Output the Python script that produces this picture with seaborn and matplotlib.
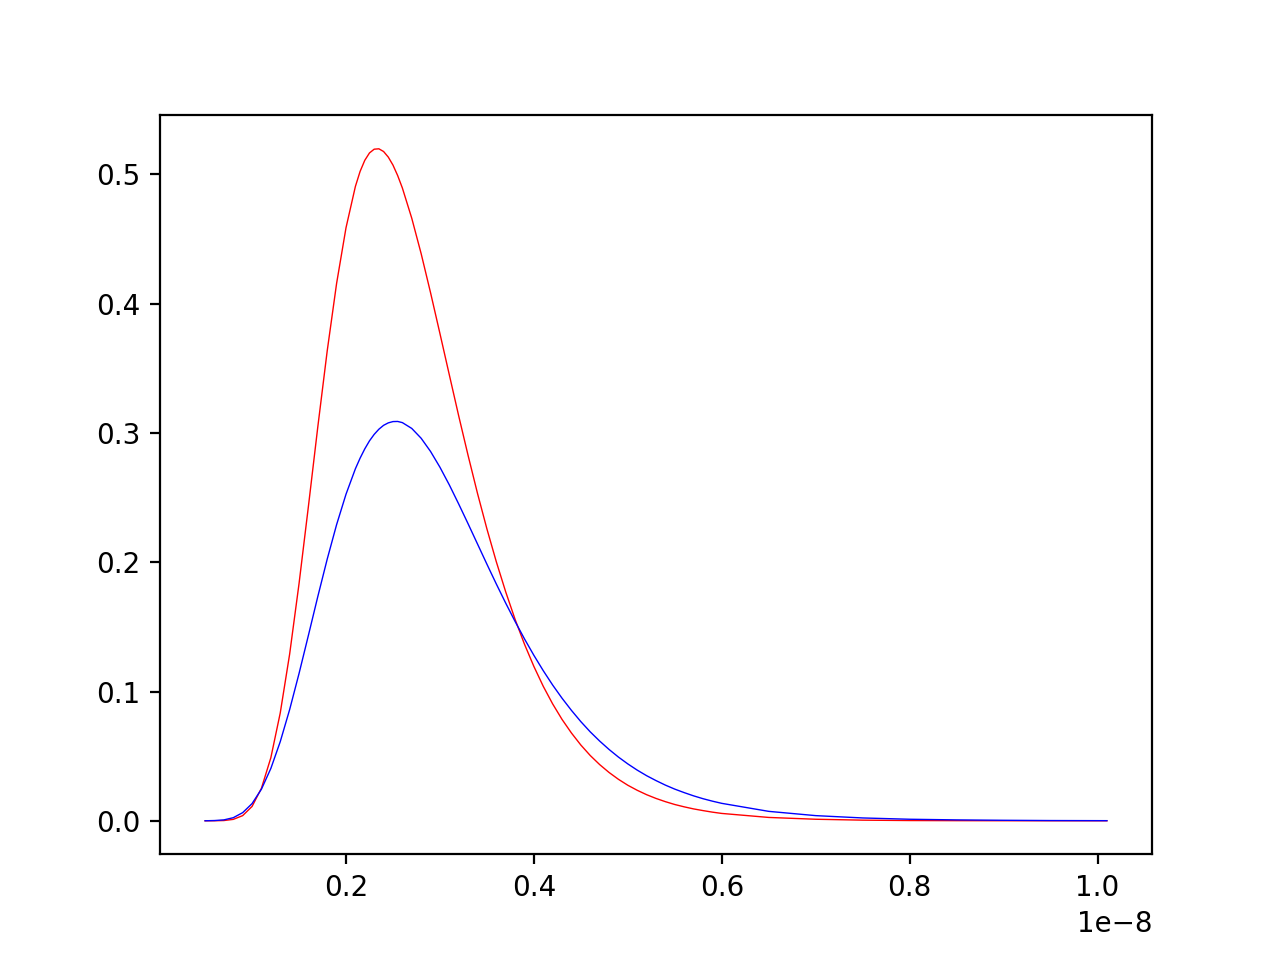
import numpy as np
import matplotlib
matplotlib.use("Agg")
import matplotlib.pyplot as plt
import seaborn as sns

# x positions (in units of 1e-8)
x_vals = [0.05, 0.06, 0.07, 0.08, 0.09, 0.10, 0.11, 0.12, 0.13, 0.14,
          0.15, 0.16, 0.17, 0.18, 0.19, 0.20, 0.21, 0.215, 0.22, 0.225,
          0.23, 0.235, 0.24, 0.245, 0.25, 0.255, 0.26, 0.27, 0.28, 0.29,
          0.30, 0.31, 0.32, 0.33, 0.34, 0.35, 0.36, 0.37, 0.38, 0.39,
          0.40, 0.41, 0.42, 0.43, 0.44, 0.45, 0.46, 0.47, 0.48, 0.49,
          0.50, 0.51, 0.52, 0.53, 0.54, 0.55, 0.56, 0.57, 0.58, 0.59,
          0.60, 0.65, 0.70, 0.75, 0.80, 0.85, 0.90, 0.95, 1.01]
x_scale = 1e-8

red_vals = [0.0000, 0.00003, 0.0002, 0.0011, 0.0040, 0.0111, 0.0252, 0.0488, 0.0834, 0.1289,
            0.1834, 0.2433, 0.3048, 0.3635, 0.4157, 0.4587, 0.4907, 0.5023, 0.5109, 0.5166,
            0.5195, 0.5198, 0.5177, 0.5134, 0.5072, 0.4991, 0.4895, 0.4661, 0.4387, 0.4085,
            0.3769, 0.3449, 0.3131, 0.2825, 0.2532, 0.2258, 0.2004, 0.1771, 0.1558, 0.1366,
            0.1194, 0.1040, 0.0904, 0.0784, 0.0679, 0.0586, 0.0505, 0.0435, 0.0374, 0.0321,
            0.0275, 0.0236, 0.0202, 0.0173, 0.0148, 0.0126, 0.0108, 0.0092, 0.0079, 0.0067,
            0.0057, 0.0026, 0.0012, 0.0005, 0.0002, 0.0001, 0.00005, 0.00002, 0.00001]

blue_vals = [0.00002, 0.0002, 0.0007, 0.0024, 0.0063, 0.0133, 0.0245, 0.0405, 0.0612, 0.0860,
             0.1139, 0.1435, 0.1735, 0.2024, 0.2291, 0.2526, 0.2723, 0.2805, 0.2877, 0.2939,
             0.2989, 0.3029, 0.3059, 0.3078, 0.3088, 0.3089, 0.3080, 0.3035, 0.2959, 0.2857,
             0.2735, 0.2598, 0.2450, 0.2297, 0.2141, 0.1985, 0.1832, 0.1684, 0.1542, 0.1407,
             0.1280, 0.1161, 0.1050, 0.0948, 0.0854, 0.0767, 0.0688, 0.0617, 0.0552, 0.0493,
             0.0440, 0.0392, 0.0349, 0.0311, 0.0276, 0.0245, 0.0218, 0.0193, 0.0171, 0.0152,
             0.0135, 0.0073, 0.0040, 0.0022, 0.0012, 0.0007, 0.0004, 0.0002, 0.0001]

x = np.array(x_vals) * x_scale

fig, ax = plt.subplots(figsize=(6.4, 4.8), dpi=200)
sns.lineplot(x=x, y=red_vals, color="red", linewidth=0.5, ax=ax)
sns.lineplot(x=x, y=blue_vals, color="blue", linewidth=0.5, ax=ax)

fig.savefig("out.png", dpi=200)
